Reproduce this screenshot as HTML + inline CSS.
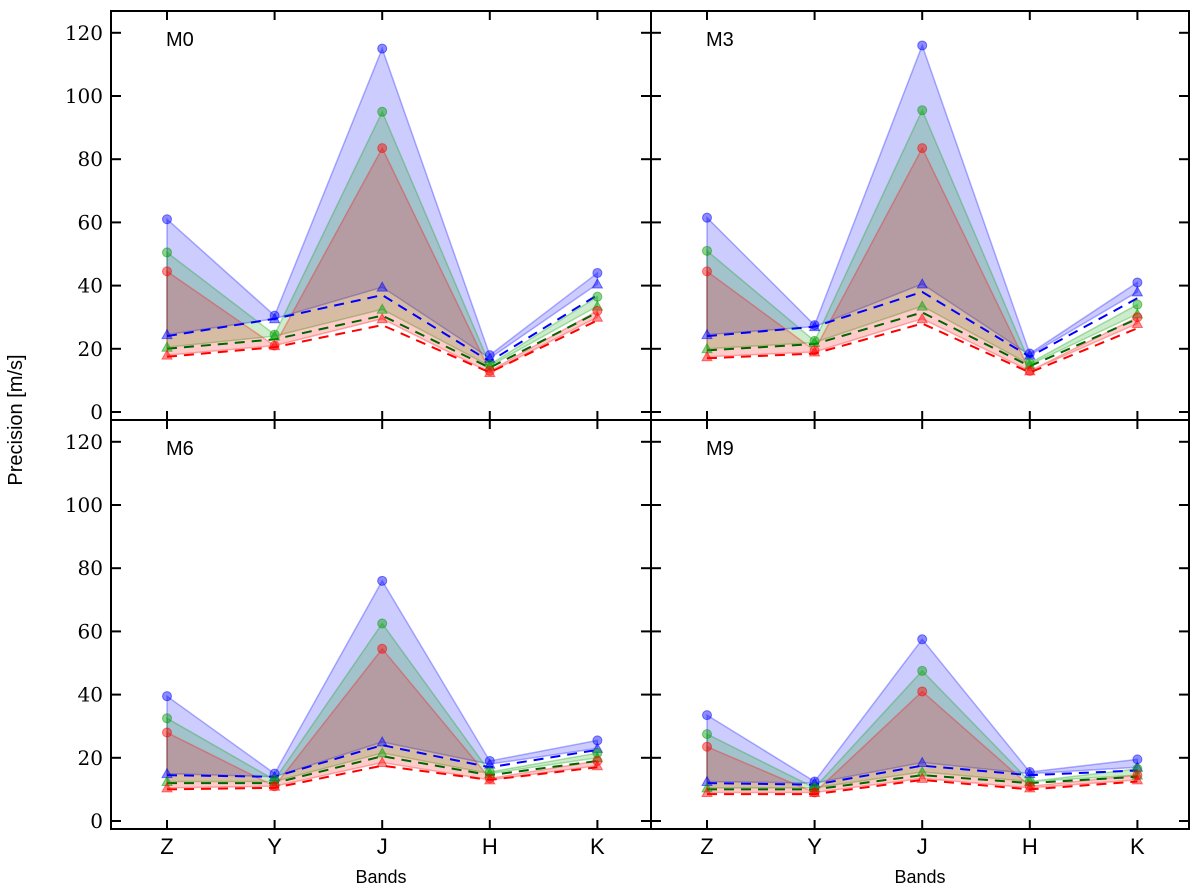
<!DOCTYPE html>
<html><head><meta charset="utf-8"><style>
body{margin:0;background:#fff}
svg{display:block}
.tk{font-family:"DejaVu Serif","Liberation Serif",serif;font-size:20px}
.sl{font-family:"Liberation Sans",sans-serif}
</style></head><body>
<svg id="c" width="1200" height="892" xmlns="http://www.w3.org/2000/svg">
<text class="sl" x="22" y="420" font-size="20" text-anchor="middle" transform="rotate(-90 22 420)">Precision [m/s]</text>
</svg>
<script>
const bands=["Z","Y","J","H","K"];
const yTicks=[0,20,40,60,80,100,120];
const panelNames=["M0","M3","M6","M9"];
// per panel: circles (upper), triangles (lower), dashed — blue, green, red
const M0_circ_b=[61,30.5,115,18,44], M0_circ_g=[50.5,24.5,95,15,36.5], M0_circ_r=[44.5,21,83.5,13,32];
const M0_tri_b=[24.5,29.5,39.5,17,40.5], M0_tri_g=[20.5,24,32.5,14.5,33.5], M0_tri_r=[18,21,29.5,12.5,30];
const M0_dash_b=[24,29.5,37,16,37], M0_dash_g=[20,23,30.5,14,31.5], M0_dash_r=[17.5,20.5,27.5,12.5,29];
const M3_circ_b=[61.5,27.5,116,18.5,41], M3_circ_g=[51,22.5,95.5,15.5,34], M3_circ_r=[44.5,19.5,83.5,13,30];
const M3_tri_b=[24.5,27,40.5,18,38], M3_tri_g=[20,22,33.5,15,31], M3_tri_r=[17.5,19,29.5,13,28];
const M3_dash_b=[24,27,38,17.5,36], M3_dash_g=[19.5,21.5,31.5,14.5,29.5], M3_dash_r=[17,18.5,28,12.5,26.5];
const M6_circ_b=[39.5,15,76,19,25.5], M6_circ_g=[32.5,13,62.5,15.5,21.5], M6_circ_r=[28,11,54.5,13.5,19];
const M6_tri_b=[15,14,25,18,23], M6_tri_g=[12.5,12.5,21.5,15,20], M6_tri_r=[10.5,11,18.5,13,17.5];
const M6_dash_b=[14.5,14,24,17,22.5], M6_dash_g=[12,12,20.5,14.5,19], M6_dash_r=[10,10.5,17.5,13,17];
const M9_circ_b=[33.5,12.5,57.5,15.5,19.5], M9_circ_g=[27.5,10.5,47.5,12.5,16.5], M9_circ_r=[23.5,9,41,11,14.5];
const M9_tri_b=[12.5,12,18.5,15,17], M9_tri_g=[10.5,10.5,15.5,12.5,14.5], M9_tri_r=[9,9,13.5,10.5,13];
const M9_dash_b=[12,11.5,17.5,14.5,16], M9_dash_g=[10,10,14.5,12,14], M9_dash_r=[8.5,8.5,13,10,12.5];
const panelData=[
 {b:[M0_circ_b,M0_tri_b,M0_dash_b],g:[M0_circ_g,M0_tri_g,M0_dash_g],r:[M0_circ_r,M0_tri_r,M0_dash_r]},
 {b:[M3_circ_b,M3_tri_b,M3_dash_b],g:[M3_circ_g,M3_tri_g,M3_dash_g],r:[M3_circ_r,M3_tri_r,M3_dash_r]},
 {b:[M6_circ_b,M6_tri_b,M6_dash_b],g:[M6_circ_g,M6_tri_g,M6_dash_g],r:[M6_circ_r,M6_tri_r,M6_dash_r]},
 {b:[M9_circ_b,M9_tri_b,M9_dash_b],g:[M9_circ_g,M9_tri_g,M9_dash_g],r:[M9_circ_r,M9_tri_r,M9_dash_r]}
];
const svg=document.getElementById('c');
const NS="http://www.w3.org/2000/svg";
function el(t,a,p){const e=document.createElementNS(NS,t);for(const k in a)e.setAttribute(k,a[k]);(p||svg).appendChild(e);return e;}
const L=[111,651],R=[651,1189],T=[11,420],B=[420,829];
const fillCol={b:"#0000ff",g:"#00a000",r:"#ff0000"};
const dashCol={b:"#0000ff",g:"#006400",r:"#ff0000"};
panelData.forEach((pd,i)=>{
 const col=i%2,row=Math.floor(i/2);
 const x0=L[col],x1=R[col],y0=T[row],y1=B[row];
 const g=el('g',{});
 
 
 const xs=k=>x0+56+k*107.6;
 const ys=v=>y1-8-v*3.16;
 ['b','g','r'].forEach(c=>{
  const [ci,tr,da]=pd[c];
  const pts=ci.map((v,k)=>xs(k)+','+ys(v)).concat(tr.map((v,k)=>[k,v]).reverse().map(([k,v])=>xs(k)+','+ys(v)));
  const f=el('polygon',{points:pts.join(' '),fill:fillCol[c],'fill-opacity':0.2,stroke:fillCol[c],'stroke-opacity':0.3,'stroke-width':1.5},g);
  
  
 });
 ['b','g','r'].forEach(c=>{
  const [ci,tr,da]=pd[c];
  const dl=el('polyline',{points:da.map((v,k)=>xs(k)+','+ys(v)).join(' '),fill:'none',stroke:dashCol[c],'stroke-width':2,'stroke-dasharray':'10,7'},g);
  
  
  ci.forEach((v,k)=>{
   const m=el('circle',{cx:xs(k),cy:ys(v),r:4.5,fill:fillCol[c],'fill-opacity':0.45,stroke:fillCol[c],'stroke-opacity':0.5},g);
   
   
  });
  tr.forEach((v,k)=>{
   const x=xs(k),y=ys(v);
   const m=el('polygon',{points:`${x},${y-5} ${x-5},${y+4} ${x+5},${y+4}`,fill:fillCol[c],'fill-opacity':0.45,stroke:fillCol[c],'stroke-opacity':0.5},g);
   
   
  });
 });
 yTicks.forEach(v=>{
  el('line',{x1:x0,x2:x0+10,y1:ys(v),y2:ys(v),stroke:'#000','stroke-width':2},g);
  el('line',{x1:x1-10,x2:x1,y1:ys(v),y2:ys(v),stroke:'#000','stroke-width':2},g);
  if(col===0){const t=el('text',{x:x0-8,y:ys(v)+7,'text-anchor':'end',class:'tk'},g);t.textContent=v;
   }
 });
 bands.forEach((b,k)=>{
  el('line',{x1:xs(k),x2:xs(k),y1:y0,y2:y0+9,stroke:'#000','stroke-width':2},g);
  el('line',{x1:xs(k),x2:xs(k),y1:y1-9,y2:y1,stroke:'#000','stroke-width':2},g);
  if(row===1){const t=el('text',{x:xs(k),y:854,'text-anchor':'middle',class:'sl','font-size':22},g);t.textContent=b;
   }
 });
 el('rect',{x:x0,y:y0,width:x1-x0,height:y1-y0,fill:'none',stroke:'#000','stroke-width':2},g);
 const lb=el('text',{x:x0+55,y:y0+35,class:'sl','font-size':20},g);lb.textContent=panelNames[i];
 
 if(row===1){const t=el('text',{x:(x0+x1)/2,y:883,'text-anchor':'middle',class:'sl','font-size':18},g);t.textContent='Bands';
  }
});
</script>
</body></html>
